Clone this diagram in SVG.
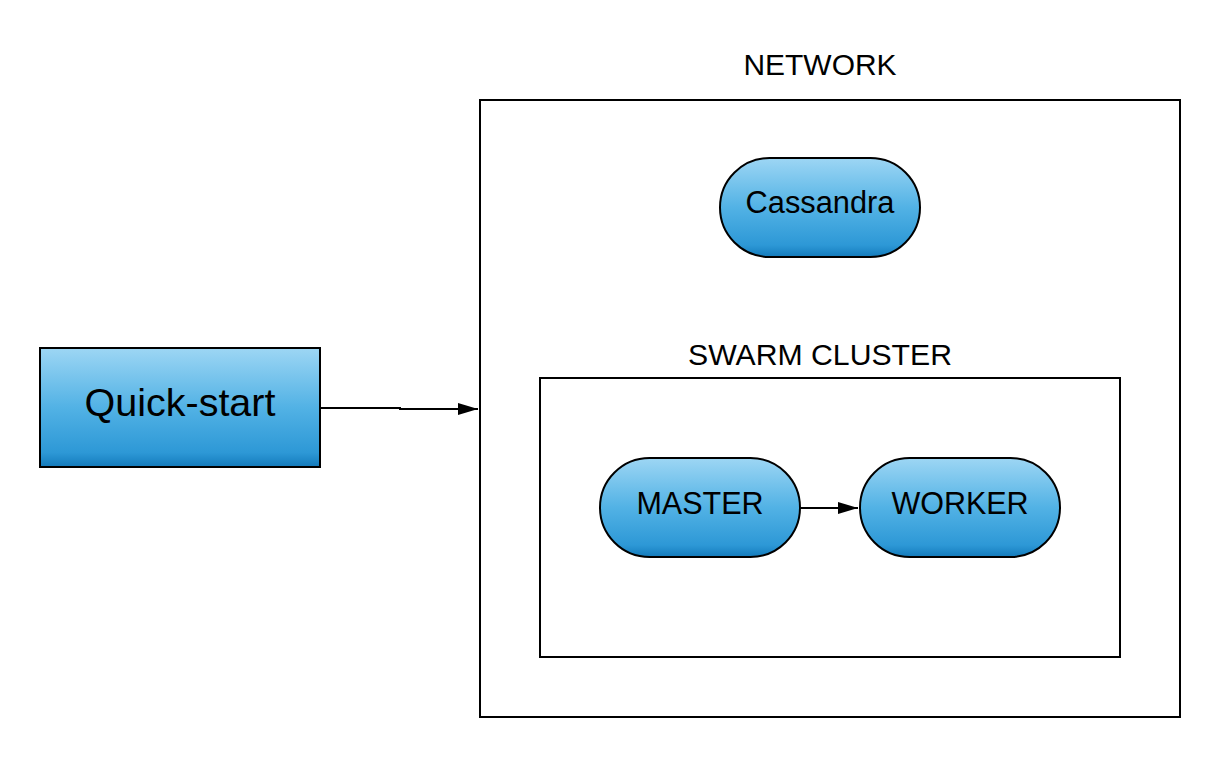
<svg xmlns="http://www.w3.org/2000/svg" width="1220" height="758" viewBox="0 0 1220 758">
<defs>
<linearGradient id="blue" x1="0" y1="0" x2="0" y2="1">
<stop offset="0" stop-color="#9dd6f4"/>
<stop offset="0.5" stop-color="#52b2e5"/>
<stop offset="0.88" stop-color="#2d98d6"/>
<stop offset="1" stop-color="#137abb"/>
</linearGradient>
<marker id="arrow" viewBox="0 0 20 12" refX="20" refY="6" markerWidth="20" markerHeight="12" markerUnits="userSpaceOnUse" orient="auto">
<path d="M0,0 L20,6 L0,12 Z" fill="#000"/>
</marker>
</defs>
<style>
.node{fill:url(#blue);stroke:#000;stroke-width:2}
.box{fill:#fff;stroke:#000;stroke-width:2}
.lbl{font-family:"Liberation Sans",Arial,sans-serif;fill:#000;text-anchor:middle}
.edge{fill:none;stroke:#000;stroke-width:2}
</style>
<rect width="1220" height="758" fill="#fff"/>
<g id="network">
<rect class="box" x="480" y="100" width="700" height="617"/>
<text class="lbl" x="820" y="75" font-size="30" textLength="153" lengthAdjust="spacingAndGlyphs">NETWORK</text>
</g>
<g id="swarm-cluster">
<rect class="box" x="540" y="378" width="580" height="279"/>
<text class="lbl" x="820" y="365" font-size="29.5" textLength="264" lengthAdjust="spacingAndGlyphs">SWARM CLUSTER</text>
</g>
<g id="quick-start">
<rect class="node" x="40" y="348" width="280" height="119"/>
<text class="lbl" x="180" y="416" font-size="39.5">Quick-start</text>
</g>
<g id="cassandra">
<rect class="node" x="720" y="158" width="200" height="99" rx="49.5"/>
<text class="lbl" x="820" y="213" font-size="30.8">Cassandra</text>
</g>
<g id="master">
<rect class="node" x="600" y="458" width="200" height="99" rx="49.5"/>
<text class="lbl" x="700" y="514" font-size="30.5">MASTER</text>
</g>
<g id="worker">
<rect class="node" x="860" y="458" width="200" height="99" rx="49.5"/>
<text class="lbl" x="960" y="514" font-size="30.5">WORKER</text>
</g>
<g id="connectors">
<path class="edge" d="M321,408 L400,408 L400,409 L478,409" marker-end="url(#arrow)"/>
<path class="edge" d="M801,508 L858,508" marker-end="url(#arrow)"/>
</g>
</svg>
